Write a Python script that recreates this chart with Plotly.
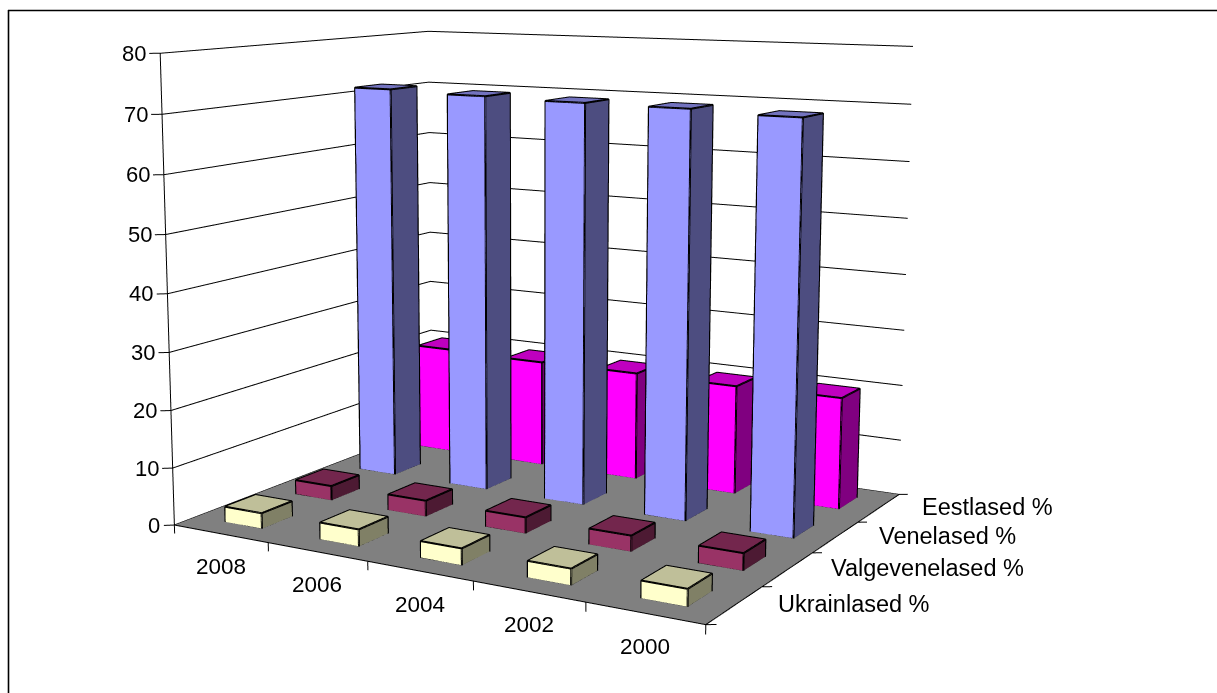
import plotly.graph_objects as go

years = ["2008", "2006", "2004", "2002", "2000"]
series = ["Ukrainlased %", "Valgevenelased %", "Venelased %", "Eestlased %"]
ukrainlased = [2.7, 2.9, 2.8, 2.7, 2.8]
valgevenelased = [2.6, 2.8, 2.8, 2.7, 2.9]
venelased = [71.5, 71.1, 70.8, 70.7, 70.2]
eestlased = [20.0, 19.7, 19.8, 19.7, 19.9]
z_ticks = [0, 10, 20, 30, 40, 50, 60, 70, 80]

front = ["#FFFFCC", "#993366", "#9999FF", "#FF00FF"]
side = ["#808066", "#4D1A33", "#4D4D80", "#800080"]
top = ["#BFBF99", "#73264D", "#7373BF", "#BF00BF"]

HALF_W, HALF_D, OFF_X = 0.195, 0.21, 0.015
NAN = None


def box(i, j, v):
    x0, x1 = i + 0.5 + OFF_X - HALF_W, i + 0.5 + OFF_X + HALF_W
    y0, y1 = j + 0.5 - HALF_D, j + 0.5 + HALF_D
    return x0, x1, y0, y1, v


def bar_mesh(vals, j):
    X, Y, Z, I, J, K, C = [], [], [], [], [], [], []
    for i, v in enumerate(vals):
        x0, x1, y0, y1, h = box(i, j, v)
        n = len(X)
        X += [x0, x1, x1, x0, x0, x1, x1, x0]
        Y += [y0, y0, y1, y1, y0, y0, y1, y1]
        Z += [0, 0, 0, 0, h, h, h, h]
        faces = [(0, 1, 5, front[j]), (0, 5, 4, front[j]),
                 (1, 2, 6, side[j]), (1, 6, 5, side[j]),
                 (4, 5, 6, top[j]), (4, 6, 7, top[j])]
        for a, b, c, col in faces:
            I.append(n + a); J.append(n + b); K.append(n + c); C.append(col)
    return go.Mesh3d(x=X, y=Y, z=Z, i=I, j=J, k=K, facecolor=C, flatshading=True,
                     lighting=dict(ambient=1, diffuse=0, specular=0, roughness=1, fresnel=0),
                     hoverinfo="skip", showscale=False)


def bar_edges(vals, j):
    X, Y, Z = [], [], []
    def seg(*pts):
        for p in pts:
            X.append(p[0]); Y.append(p[1]); Z.append(p[2])
        X.append(NAN); Y.append(NAN); Z.append(NAN)
    for i, v in enumerate(vals):
        x0, x1, y0, y1, h = box(i, j, v)
        seg((x0, y0, 0), (x1, y0, 0), (x1, y1, 0), (x1, y1, h), (x0, y1, h), (x0, y0, h), (x0, y0, 0))
        seg((x1, y0, 0), (x1, y0, h), (x0, y0, h))
        seg((x1, y0, h), (x1, y1, h))
    return go.Scatter3d(x=X, y=Y, z=Z, mode="lines", line=dict(color="#000000", width=4),
                        hoverinfo="skip", showlegend=False)


nx, ny = len(years), len(series)
fig = go.Figure()

# floor
fig.add_trace(go.Mesh3d(x=[0, nx, nx, 0], y=[0, 0, ny, ny], z=[0, 0, 0, 0], i=[0, 0], j=[1, 2], k=[2, 3],
                        color="#808080", flatshading=True,
                        lighting=dict(ambient=1, diffuse=0, specular=0, roughness=1, fresnel=0),
                        hoverinfo="skip", showscale=False))

# wall grid and axis lines
gx, gy, gz = [], [], []
for z in z_ticks:
    for p in [(-0.07, -0.053, z), (0, 0, z), (0, ny, z), (nx, ny, z), (NAN, NAN, NAN)]:
        gx.append(p[0]); gy.append(p[1]); gz.append(p[2])
for p in [(0, 0, z_ticks[0]), (0, 0, z_ticks[-1]), (NAN, NAN, NAN)]:
    gx.append(p[0]); gy.append(p[1]); gz.append(p[2])
for p in [(0, 0, 0), (nx, 0, 0), (nx, ny, 0), (NAN, NAN, NAN)]:
    gx.append(p[0]); gy.append(p[1]); gz.append(p[2])
for i in range(nx + 1):
    for p in [(i, 0, 0), (i, 0, -1.5), (NAN, NAN, NAN)]:
        gx.append(p[0]); gy.append(p[1]); gz.append(p[2])
for j in range(ny + 1):
    for p in [(nx, j, 0), (nx + 0.066, j + 0.043, 0), (NAN, NAN, NAN)]:
        gx.append(p[0]); gy.append(p[1]); gz.append(p[2])
fig.add_trace(go.Scatter3d(x=gx, y=gy, z=gz, mode="lines", line=dict(color="#000000", width=2),
                           hoverinfo="skip", showlegend=False))

for j, vals in enumerate([ukrainlased, valgevenelased, venelased, eestlased]):
    fig.add_trace(bar_mesh(vals, j))
    fig.add_trace(bar_edges(vals, j))

font = dict(family="Liberation Sans", size=22, color="#000000")
font_year = dict(font, size=22.5)
font_series = dict(font, size=23.5)
ann = []
for z in z_ticks:
    ann.append(dict(x=0, y=0, z=z, text=str(z), showarrow=False, xanchor="right", yanchor="middle",
                    xshift=-12, yshift=0, font=font))
for i, t in enumerate(years):
    ann.append(dict(x=i + 0.5, y=0, z=0, text=t, showarrow=False, xanchor="center", yanchor="middle",
                    xshift=0, yshift=-33, font=font_year))
for j, t in enumerate(series):
    ann.append(dict(x=nx, y=j + 0.5, z=0, text=t, showarrow=False, xanchor="left", yanchor="middle",
                    xshift=41, yshift=1, font=font_series))

axis = dict(showgrid=False, zeroline=False, showticklabels=False, ticks="", showline=False,
            showbackground=False, showspikes=False, title="")

# Oversized square canvas: the vertical field of view of a 3D scene is fixed, so the camera's
# focal length comes from the canvas height; the page offset puts its centre at the vanishing centre.
SIZE, LEFT, TOP = 1701, -320, -578
def px(x): return (x - LEFT) / SIZE
def py(y): return 1 - (y - TOP) / SIZE

fig.update_layout(
    width=SIZE, height=SIZE, autosize=False, margin=dict(l=0, r=0, t=0, b=0, pad=0),
    paper_bgcolor="#FFFFFF", showlegend=False,
    scene=dict(
        domain=dict(x=[0, 1], y=[0, 1]),
        xaxis=dict(axis, range=[-0.5, 5.5]),
        yaxis=dict(axis, range=[-0.5, 4.5]),
        zaxis=dict(axis, range=[-10, 90]),
        aspectmode="manual", aspectratio=dict(x=1.4976, y=1.255, z=1.25),
        camera=dict(eye=dict(x=2.157, y=-3.761, z=0.762), center=dict(x=-0.038, y=-0.003, z=0.022),
                    up=dict(x=0.012, y=-0.019, z=1), projection=dict(type="perspective")),
        annotations=ann,
    ),
    shapes=[
        dict(type="line", xref="paper", yref="paper", x0=px(8), x1=px(1217), y0=py(10.5), y1=py(10.5),
             line=dict(color="#000000", width=1.6)),
        dict(type="line", xref="paper", yref="paper", x0=px(8.5), x1=px(8.5), y0=py(10), y1=py(693),
             line=dict(color="#000000", width=1.6)),
    ],
)

post = ("var gd=document.getElementsByClassName('plotly-graph-div')[0];"
        "gd.style.position='absolute';gd.style.left='%dpx';gd.style.top='%dpx';"
        "document.documentElement.style.overflow='hidden';document.body.style.overflow='hidden';" % (LEFT, TOP))
fig.write_html("out.html", config=dict(displayModeBar=False), post_script=post)
